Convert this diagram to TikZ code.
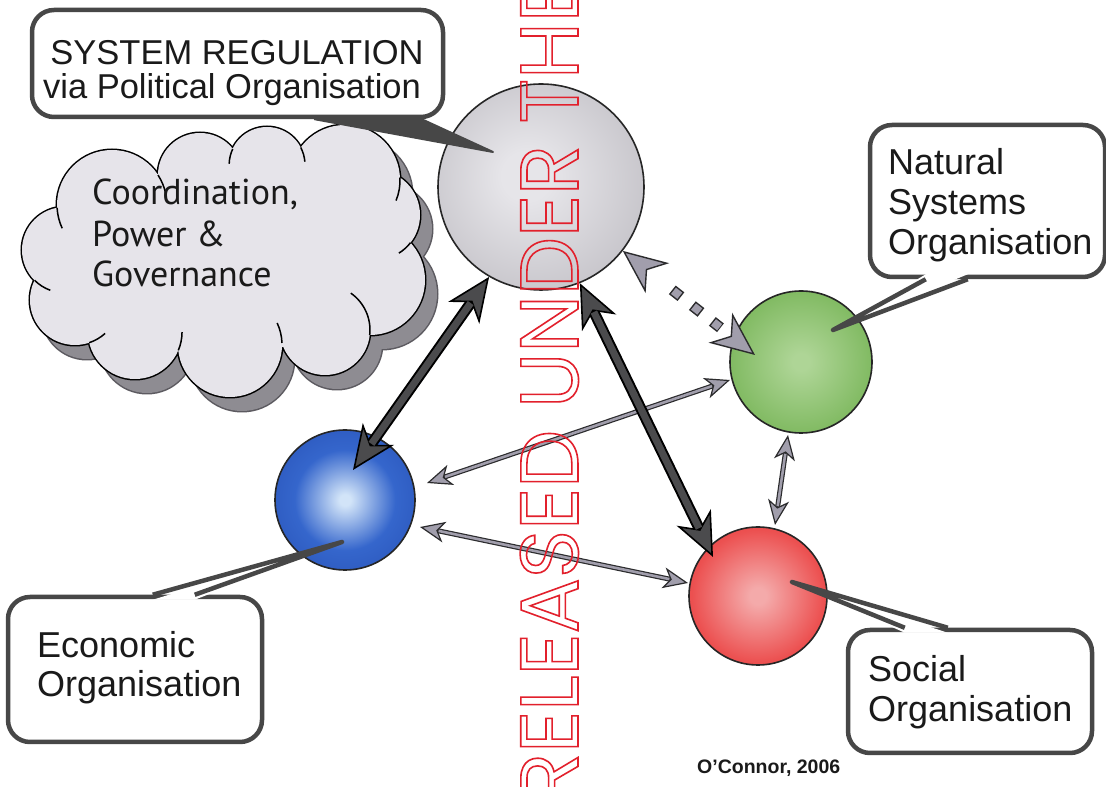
\documentclass[tikz,border=0pt]{standalone}
\usepackage{fontspec}
\setmainfont{Liberation Sans}
\newfontfamily\cloudfont{PT Sans}
\newfontfamily\wmfont{Poppins}
\usetikzlibrary{arrows.meta,calc}
\definecolor{polc}{HTML}{E6E5E9}
\definecolor{polm}{HTML}{BFBDC3}
\definecolor{pole}{HTML}{8E8C92}
\definecolor{natc}{HTML}{AED596}
\definecolor{natm}{HTML}{7FB960}
\definecolor{nate}{HTML}{579445}
\definecolor{ecoc}{HTML}{D2E4F8}
\definecolor{ecom}{HTML}{3566CC}
\definecolor{ecoe}{HTML}{1C40A4}
\definecolor{socc}{HTML}{F4AAAA}
\definecolor{socm}{HTML}{EC5050}
\definecolor{soce}{HTML}{D02A2A}
\definecolor{ballline}{HTML}{262626}
\definecolor{arrowdark}{HTML}{4B4B4D}
\definecolor{arrowline}{HTML}{2B2B2D}
\definecolor{thinfill}{HTML}{A19EAC}
\definecolor{boxline}{HTML}{474747}
\definecolor{cloudfill}{HTML}{E6E4EA}
\definecolor{cloudshadow}{HTML}{8E8C92}
\definecolor{cloudshadowline}{HTML}{5C5A60}
\definecolor{wmred}{HTML}{E2202C}
\definecolor{txt}{HTML}{1A1A1A}
\pgfdeclareradialshading{polshade}{\pgfpoint{-4bp}{3bp}}{color(0bp)=(polc);color(6bp)=(polc);color(34bp)=(polm);color(50bp)=(pole)}
\pgfdeclareradialshading{natshade}{\pgfpoint{0bp}{0bp}}{color(0bp)=(natc);color(3bp)=(natc);color(26bp)=(natm);color(50bp)=(nate)}
\pgfdeclareradialshading{ecoshade}{\pgfpoint{0bp}{0bp}}{color(0bp)=(ecoc);color(2bp)=(ecoc);color(18bp)=(ecom);color(50bp)=(ecoe)}
\pgfdeclareradialshading{socshade}{\pgfpoint{0bp}{0bp}}{color(0bp)=(socc);color(3bp)=(socc);color(24bp)=(socm);color(50bp)=(soce)}
\newcommand\cldpuffs{(112,582) circle[radius=55] (200,612) circle[radius=42] (267,622) circle[radius=38] (345,607) circle[radius=55] (375,572) circle[radius=45] (370,507) circle[radius=55] (325,457) circle[radius=45] (230,442) circle[radius=52] (135,455) circle[radius=47] (75,487) circle[radius=45] (65,537) circle[radius=43] (222,527) ellipse[x radius=150,y radius=95]}
\newcommand\outlineon{\special{pdf:literal direct 1 Tr 1.6 w}}
\newcommand\outlineoff{\special{pdf:literal direct 0 Tr}}
\begin{document}
\begin{tikzpicture}[x=1pt,y=1pt,
  sphere/.style={circle, draw=ballline, line width=1.6pt, inner sep=0pt},
  callbox/.style={draw=boxline, line width=4.5pt, fill=white, rounded corners=22pt, inner sep=0pt},
  tailline/.style={draw=boxline, line width=4.5pt, line join=round},
  labeltext/.style={anchor=base west, inner sep=0pt, text=txt, font=\fontsize{36}{40}\selectfont},
  cloudtext/.style={anchor=base west, inner sep=0pt, text=txt, font=\cloudfont\fontsize{36}{40}\selectfont},
  thickouter/.style={draw=black, line width=11pt, arrows={Stealth[length=44pt,width=38pt,inset=13pt,line width=1.6pt,fill=arrowdark]-Stealth[length=44pt,width=38pt,inset=13pt,line width=1.6pt,fill=arrowdark]}},
  thickinner/.style={draw=arrowdark, line width=7pt, shorten <=32pt, shorten >=32pt},
  thinouter/.style={draw=arrowline, line width=5pt, arrows={Stealth[length=25pt,width=21pt,inset=7pt,line width=1.2pt,fill=thinfill]-Stealth[length=25pt,width=21pt,inset=7pt,line width=1.2pt,fill=thinfill]}},
  thininner/.style={draw=thinfill, line width=2.6pt, shorten <=19pt, shorten >=19pt},
  dashtips/.style={draw=arrowline, line width=1pt, dash pattern=on 0pt off 600pt, arrows={Stealth[length=44pt,width=38pt,inset=13pt,line width=1.4pt,fill=thinfill]-Stealth[length=44pt,width=38pt,inset=13pt,line width=1.4pt,fill=thinfill]}},
  dashouter/.style={draw=arrowline, line width=11pt, dash pattern=on 11pt off 14.5pt, shorten <=63pt, shorten >=44pt},
  dashinner/.style={draw=thinfill, line width=8pt, dash pattern=on 8pt off 17.5pt, shorten <=64.5pt, shorten >=45pt},
  seam/.style={draw=black, line width=1.5pt}
]
\useasboundingbox (0,0) rectangle (1106,787);
\fill[white] (0,0) rectangle (1106,787);

% cloud with shadow
\begin{scope}[shift={(12,-14)}]
  \draw[cloudshadowline, line width=3pt] \cldpuffs;
  \fill[cloudshadow] \cldpuffs;
\end{scope}
\draw[black, line width=3pt] \cldpuffs;
\fill[cloudfill] \cldpuffs;
\draw[seam] (158,612) arc[start angle=33,end angle=10,radius=55];
\draw[seam] (232.7,638) arc[start angle=155,end angle=178,radius=38];
\draw[seam] (300.7,639.6) arc[start angle=27.6,end angle=5,radius=38];
\draw[seam] (400,609.5) arc[start angle=2.6,end angle=-22,radius=55];
\draw[seam] (410.5,544.3) arc[start angle=-38,end angle=-58,radius=45];
\draw[seam] (369.7,452) arc[start angle=-6.4,end angle=55,radius=45];
\draw[seam] (282,444) arc[start angle=2.2,end angle=25,radius=52];
\draw[seam] (178.3,436.6) arc[start angle=-23,end angle=0,radius=47];
\draw[seam] (89.2,444.3) arc[start angle=-71.6,end angle=-48,radius=45];
\draw[seam] (34.6,506.7) arc[start angle=225,end angle=250,radius=43];
\draw[seam] (57.1,579.2) arc[start angle=182.9,end angle=205,radius=55];
\node[cloudtext] (cl1) at (92,582) {Coordination,};
\node[cloudtext] (cl2) at (92,540) {Power \&};
\node[cloudtext] (cl3) at (92,500) {Governance};

% spheres
\node[sphere, shading=polshade, minimum size=206pt] (pol) at (541,600) {};
\node[sphere, shading=natshade, minimum size=142pt] (nat) at (801,425) {};
\node[sphere, shading=ecoshade, minimum size=140pt] (eco) at (345,287) {};
\node[sphere, shading=socshade, minimum size=138pt] (soc) at (758,191) {};

% connector end points
\coordinate (pe1) at (pol.240);
\coordinate (pe2) at ($(eco.center)+(8,30)$);
\coordinate (ps1) at (pol.292);
\coordinate (ps2) at ($(soc.center)+(-45,39)$);
\coordinate (pn1) at (pol.322.5);
\coordinate (pn2) at ($(nat.center)+(-46,7)$);
\coordinate (en1) at ($(eco.center)+(82,17)$);
\coordinate (en2) at ($(nat.center)+(-71,-18)$);
\coordinate (es1) at ($(eco.center)+(75,-27)$);
\coordinate (es2) at ($(soc.center)+(-70,13)$);
\coordinate (ns1) at ($(nat.center)+(-13,-73)$);
\coordinate (ns2) at ($(soc.center)+(17,71)$);

% thin connectors
\draw[thinouter] (en1) -- (en2);
\draw[thininner] (en1) -- (en2);
\draw[thinouter] (es1) -- (es2);
\draw[thininner] (es1) -- (es2);
\draw[thinouter] (ns1) -- (ns2);
\draw[thininner] (ns1) -- (ns2);
% dotted connector
\draw[dashtips] (pn1) -- (pn2);
\draw[dashouter] (pn1) -- (pn2);
\draw[dashinner] (pn1) -- (pn2);
% thick connectors
\draw[thickouter] (pe1) -- (pe2);
\draw[thickinner] (pe1) -- (pe2);
\draw[thickouter] (ps1) -- (ps2);
\draw[thickinner] (ps1) -- (ps2);

% callout: system regulation (solid dark tail)
\coordinate (systip) at ($(pol.center)+(-48,35)$);
\node[callbox, minimum width=411pt, minimum height=107pt] (sysbox) at (237.5,723.5) {};
\coordinate (sysb1) at ($(sysbox.south west)+(285,0)$);
\coordinate (sysb2) at ($(sysbox.south west)+(392,0)$);
\fill[boxline, draw=boxline, line width=2pt, line join=round] (sysb1) -- (systip) -- (sysb2) -- cycle;
\node[anchor=base, inner sep=0pt, text=txt, font=\fontsize{34.5}{36}\selectfont] (sys1) at (237,722) {SYSTEM REGULATION};
\node[anchor=base, inner sep=0pt, text=txt, font=\fontsize{34.5}{36}\selectfont] (sys2) at (232,688) {via Political Organisation};

% callout: natural systems
\node[callbox, minimum width=235pt, minimum height=152pt] (natbox) at (987.5,586) {};
\coordinate (nattip) at ($(nat.center)+(32,32)$);
\coordinate (natb1) at ($(natbox.south west)+(58,0)$);
\coordinate (natb2) at ($(natbox.south west)+(100,0)$);
\fill[white] ($(natb1)+(0,5)$) -- (nattip) -- ($(natb2)+(0,5)$) -- cycle;
\draw[tailline] (natb1) -- (nattip) -- (natb2);
\node[labeltext] (nat1) at (888,612) {Natural};
\node[labeltext] (nat2) at (888,572) {Systems};
\node[labeltext] (nat3) at (888,532) {Organisation};

% callout: economic
\node[callbox, minimum width=254pt, minimum height=145pt] (ecobox) at (135,117.5) {};
\coordinate (ecotip) at ($(eco.center)+(-3,-42)$);
\coordinate (ecob1) at ($(ecobox.north west)+(147,0)$);
\coordinate (ecob2) at ($(ecobox.north west)+(189,0)$);
\fill[white] ($(ecob1)+(0,-5)$) -- (ecotip) -- ($(ecob2)+(0,-5)$) -- cycle;
\draw[tailline] (ecob1) -- (ecotip) -- (ecob2);
\node[labeltext] (eco1) at (37,129) {Economic};
\node[labeltext] (eco2) at (37,90) {Organisation};

% callout: social
\node[callbox, minimum width=244pt, minimum height=123pt] (socbox) at (970,95.5) {};
\coordinate (soctip) at ($(soc.center)+(34,14)$);
\coordinate (socb1) at ($(socbox.north west)+(59,0)$);
\coordinate (socb2) at ($(socbox.north west)+(102,0)$);
\fill[white] ($(socb1)+(0,-5)$) -- (soctip) -- ($(socb2)+(0,-5)$) -- cycle;
\draw[tailline] (socb1) -- (soctip) -- (socb2);
\node[labeltext] (soc1) at (868,105) {Social};
\node[labeltext] (soc2) at (868,65) {Organisation};

% credit
\node[anchor=base west, inner sep=0pt, text=txt, font=\bfseries\fontsize{19.5}{20}\selectfont] (credit) at (697,13) {O’Connor, 2006};

% watermark
\node[rotate=90, anchor=base west, inner sep=0pt, text=wmred, font=\wmfont\fontsize{82}{84}\selectfont] (wm) at (578,-16) {\outlineon RELEASED UNDER THE\outlineoff};
\end{tikzpicture}
\end{document}
